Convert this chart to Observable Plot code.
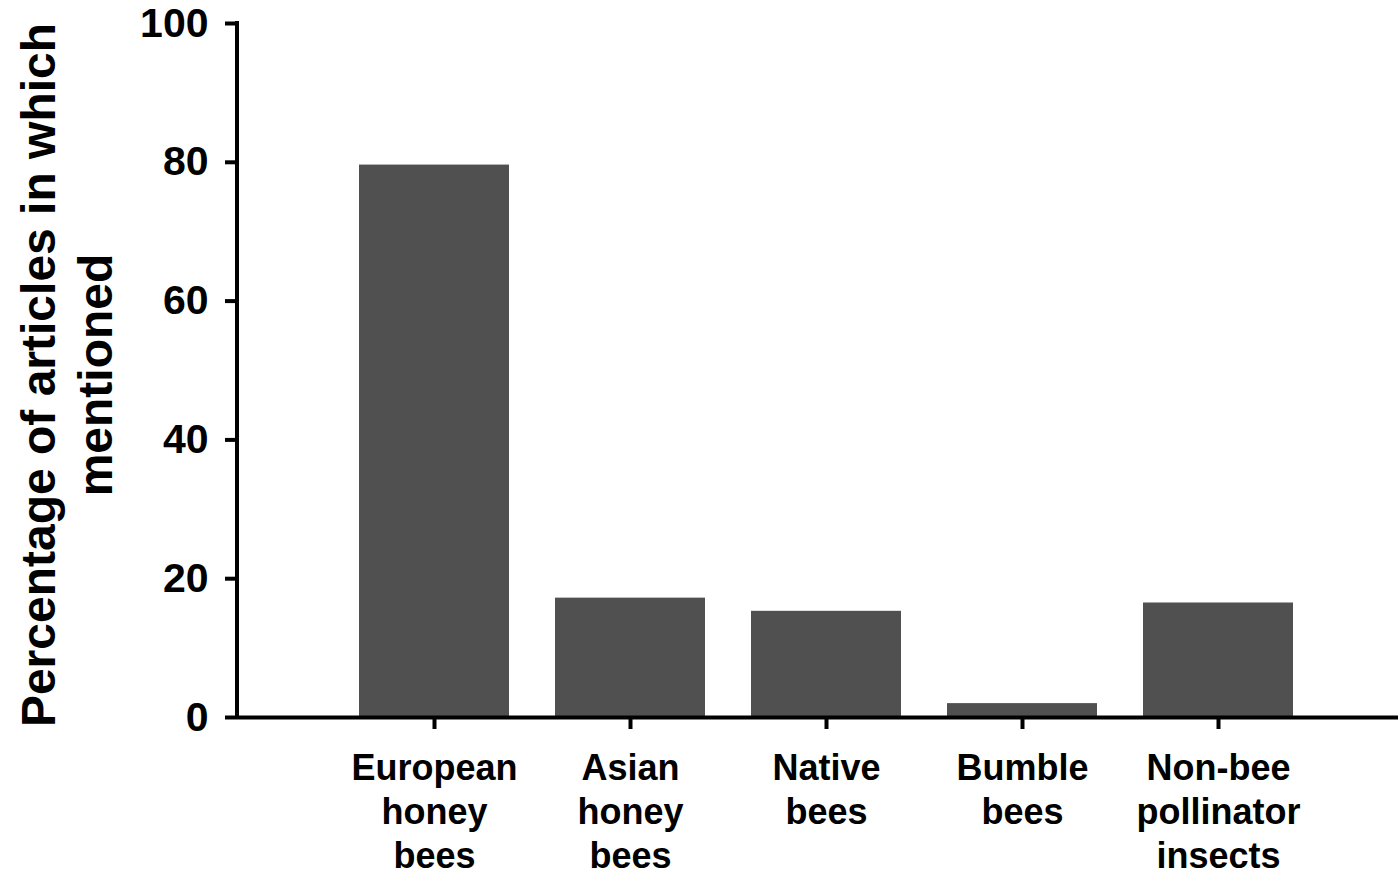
<!DOCTYPE html>
<html><head><meta charset="utf-8">
<script src="https://cdn.jsdelivr.net/npm/d3@7"></script>
<script src="https://cdn.jsdelivr.net/npm/@observablehq/plot@0.6"></script>
<style>body{margin:0;background:#fff} svg{display:block}</style>
</head><body><div id="chart"></div>
<script>
const categories = ["European honey bees", "Asian honey bees", "Native bees", "Bumble bees", "Non-bee pollinator insects"];
const tickLabels = ["European\nhoney\nbees", "Asian\nhoney\nbees", "Native\nbees", "Bumble\nbees", "Non-bee\npollinator\ninsects"];
const values = [79.6, 17.2, 15.3, 2.0, 16.5];
const yTicks = [0, 20, 40, 60, 80, 100];
const yLabelLines = ["Percentage of articles in which", "mentioned"];

const data = categories.map((c, i) => ({category: c, value: values[i]}));

const W = 1398, H = 880, mL = 237, mT = 23, mB = 163;
const font = "'Liberation Sans', Arial, Helvetica, sans-serif";

const plot = Plot.plot({
  width: W, height: H,
  marginLeft: mL, marginRight: 0, marginTop: mT, marginBottom: mB,
  style: {fontFamily: font, fontWeight: "bold", color: "#000", background: "#fff", overflow: "visible"},
  x: {domain: categories, range: [359, 1293], paddingInner: 0.235, paddingOuter: 0},
  y: {domain: [0, 100]},
  marks: [
    Plot.barY(data, {x: "category", y: "value", fill: "#505050"}),
    Plot.ruleY([0], {stroke: "#000", strokeWidth: 4}),
    Plot.axisY({ticks: yTicks, tickSize: 12, tickPadding: 17, stroke: "#000", strokeWidth: 4, fontSize: 41, fill: "#000", label: null}),
    Plot.axisX({tickSize: 12, tickPadding: 20, stroke: "#000", strokeWidth: 4, fontSize: 36, lineHeight: 1.21, fill: "#000",
      tickFormat: d => tickLabels[categories.indexOf(d)], label: null})
  ]
});

const y = plot.scale("y");
const svg = d3.select(plot);
svg.append("line")
  .attr("x1", mL).attr("x2", mL)
  .attr("y1", y.apply(100) - 2).attr("y2", y.apply(0) + 2)
  .attr("stroke", "#000").attr("stroke-width", 4);

const yMid = (y.apply(0) + y.apply(100)) / 2;
const lab = svg.append("text")
  .attr("transform", `translate(55,${yMid + 5}) rotate(-90)`)
  .attr("text-anchor", "middle")
  .attr("font-family", font)
  .attr("font-weight", "bold")
  .attr("font-size", 48)
  .attr("fill", "#000");
yLabelLines.forEach((t, i) => {
  lab.append("tspan").attr("x", 0).attr("y", i * 57).text(t);
});

document.getElementById("chart").appendChild(plot);
</script>
</body></html>
